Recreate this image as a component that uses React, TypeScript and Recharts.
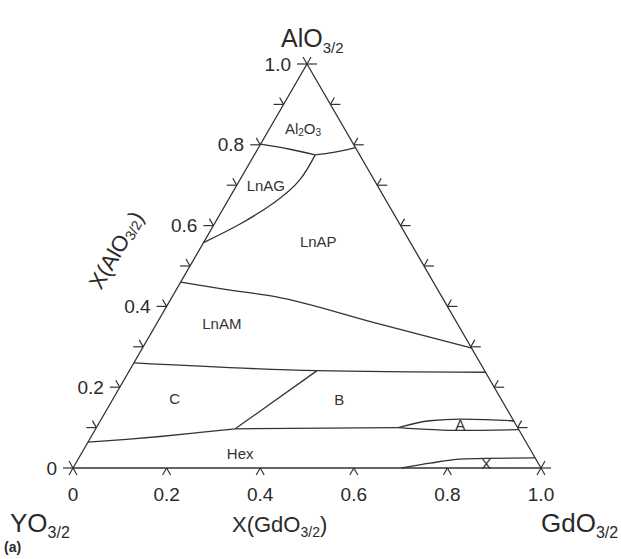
import React from 'react';
import { ComposedChart, Line, Scatter, XAxis, YAxis, ReferenceLine } from 'recharts';

// ternary points are [X(GdO3/2), X(AlO3/2)]
const outline = [[0, 0], [0, 1], [1, 0], [0, 0]];
const al2o3LnAG = [[0, 0.8015], [0.069, 0.789], [0.13, 0.775]];
const al2o3LnAP = [[0.13, 0.775], [0.166, 0.781], [0.207, 0.793]];
const lnAGLnAP = [[0, 0.558], [0.055, 0.604], [0.102, 0.658], [0.128, 0.713], [0.13, 0.775]];
const lnAPLnAM = [[0, 0.46], [0.104, 0.442], [0.22, 0.424], [0.466, 0.359], [0.703, 0.297]];
const lnAMCB = [[0, 0.26], [0.401, 0.241], [0.763, 0.237]];
const hexC = [[0, 0.064], [0.079, 0.071], [0.147, 0.078], [0.228, 0.088], [0.298, 0.097]];
const cB = [[0.298, 0.097], [0.401, 0.241]];
const bHex = [[0.298, 0.097], [0.645, 0.1]];
const aUpper = [[0.645, 0.1], [0.704, 0.117], [0.767, 0.121], [0.879, 0.117], [0.885, 0.115]];
const aLower = [[0.645, 0.1], [0.781, 0.093], [0.905, 0.095]];
const xUpper = [[0.702, 0], [0.757, 0.012], [0.816, 0.022], [0.879, 0.024], [0.975, 0.025]];

const sideTicks = [0, 0.1, 0.2, 0.3, 0.4, 0.5, 0.6, 0.7, 0.8, 0.9, 1.0];
const baseTicks = [0, 0.2, 0.4, 0.6, 0.8, 1.0];
const tickLabels = ['0', '0.2', '0.4', '0.6', '0.8', '1.0'];

const regionNames = ['Al2O3', 'LnAG', 'LnAP', 'LnAM', 'C', 'B', 'A', 'Hex', 'X'];
const regionGd = [0.071, 0.062, 0.244, 0.139, 0.131, 0.484, 0.774, 0.339, 0.877];
const regionAl = [0.841, 0.7, 0.56, 0.358, 0.173, 0.17, 0.1066, 0.0365, 0.0117];

const W = 621;
const H = 559;
const PW = 468; // plot width in px
const PH = 404; // plot height in px
const FONT = '"Liberation Sans", Arial, sans-serif';
const INK = '#2a2a2a';

const tern = (g: number, a: number) => ({ x: g + a / 2, y: a });
const toXY = (pts: number[][]) => pts.map(([g, a]) => tern(g, a));

const boundaries = [
  { id: 'outline', pts: outline, type: 'linear' },
  { id: 'al2o3LnAG', pts: al2o3LnAG, type: 'monotoneX' },
  { id: 'al2o3LnAP', pts: al2o3LnAP, type: 'monotoneX' },
  { id: 'lnAGLnAP', pts: lnAGLnAP, type: 'natural' },
  { id: 'lnAPLnAM', pts: lnAPLnAM, type: 'monotoneX' },
  { id: 'lnAMCB', pts: lnAMCB, type: 'monotoneX' },
  { id: 'hexC', pts: hexC, type: 'monotoneX' },
  { id: 'cB', pts: cB, type: 'linear' },
  { id: 'bHex', pts: bHex, type: 'linear' },
  { id: 'aUpper', pts: aUpper, type: 'monotoneX' },
  { id: 'aLower', pts: aLower, type: 'monotoneX' },
  { id: 'xUpper', pts: xUpper, type: 'monotoneX' },
];

// tick stroke lengths in data units
const hLen = 10 / PW;
const dDx = (8 * 0.5) / PW;
const dDy = (8 * 0.866) / PH;

const tickSegments: { x: number; y: number }[][] = [];
sideTicks.forEach((a) => {
  const l = tern(0, a);
  tickSegments.push([l, { x: l.x - hLen, y: a }]);
  tickSegments.push([l, { x: l.x - dDx, y: a + dDy }]);
  const r = tern(1 - a, a);
  tickSegments.push([r, { x: r.x + hLen, y: a }]);
  tickSegments.push([r, { x: r.x + dDx, y: a + dDy }]);
});
baseTicks.forEach((g) => {
  const b = tern(g, 0);
  tickSegments.push([b, { x: b.x - dDx, y: -dDy }]);
  tickSegments.push([b, { x: b.x + dDx, y: -dDy }]);
});

const leftLabelData = baseTicks.map((a, i) => ({ ...tern(0, a), label: tickLabels[i] }));
const bottomLabelData = baseTicks.map((g, i) => ({ ...tern(g, 0), label: tickLabels[i] }));
const regionData = regionNames.map((n, i) => ({ ...tern(regionGd[i], regionAl[i]), label: n }));
const vertexData = [
  { ...tern(0, 1), label: 'top' },
  { ...tern(0, 0), label: 'left' },
  { ...tern(1, 0), label: 'right' },
  { ...tern(0.5, 0), label: 'bottom' },
  { ...tern(0, 0.5), label: 'side' },
];

const LeftLabel = (p: any) => (
  <text x={p.cx - 16} y={p.cy} textAnchor="end" dominantBaseline="central" fontSize={19} fill={INK} fontFamily={FONT}>
    {p.payload.label}
  </text>
);

const BottomLabel = (p: any) => (
  <text x={p.cx} y={p.cy + 26} textAnchor="middle" dominantBaseline="central" fontSize={19} fill={INK} fontFamily={FONT}>
    {p.payload.label}
  </text>
);

const RegionLabel = (p: any) => {
  const name = p.payload.label;
  if (name === 'Al2O3') {
    return (
      <text x={p.cx} y={p.cy} textAnchor="middle" dominantBaseline="central" fontSize={15} fill="#333" fontFamily={FONT}>
        Al<tspan fontSize={10} dy={4}>2</tspan>
        <tspan dy={-4}>O</tspan>
        <tspan fontSize={10} dy={4}>3</tspan>
      </text>
    );
  }
  return (
    <text x={p.cx} y={p.cy} textAnchor="middle" dominantBaseline="central" fontSize={15} fill="#333" fontFamily={FONT}>
      {name}
    </text>
  );
};

const VertexLabel = (p: any) => {
  const { cx, cy } = p;
  switch (p.payload.label) {
    case 'top':
      return (
        <text x={cx - 26} y={cy - 17} fontSize={25} fill={INK} fontFamily={FONT}>
          AlO<tspan fontSize={15} dy={6}>3/2</tspan>
        </text>
      );
    case 'left':
      return (
        <g>
          <text x={cx - 63} y={cy + 64} fontSize={26} fill={INK} fontFamily={FONT}>
            YO<tspan fontSize={16} dy={6}>3/2</tspan>
          </text>
          <text x={cx - 69} y={cy + 84} fontSize={14} fontWeight="bold" fill={INK} fontFamily={FONT}>
            (a)
          </text>
        </g>
      );
    case 'right':
      return (
        <text x={cx} y={cy + 64} fontSize={26} fill={INK} fontFamily={FONT}>
          GdO<tspan fontSize={16} dy={6}>3/2</tspan>
        </text>
      );
    case 'bottom':
      return (
        <text x={cx - 75} y={cy + 64} fontSize={22} fill={INK} fontFamily={FONT}>
          X(GdO<tspan fontSize={14} dy={5}>3/2</tspan>
          <tspan dy={-5}>)</tspan>
        </text>
      );
    default: {
      const x = cx - 74;
      const y = cy - 16;
      return (
        <text
          x={x}
          y={y}
          textAnchor="middle"
          dominantBaseline="central"
          fontSize={22}
          fill={INK}
          fontFamily={FONT}
          transform={`rotate(-60, ${x}, ${y})`}
        >
          X(AlO<tspan fontSize={14} dy={5}>3/2</tspan>
          <tspan dy={-5}>)</tspan>
        </text>
      );
    }
  }
};

export default function App() {
  return (
    <div style={{ position: 'absolute', left: 0, top: 0, width: W, height: H, background: '#fff' }}>
      <ComposedChart width={W} height={H} margin={{ top: 64, right: W - 73 - PW, bottom: H - 64 - PH, left: 73 }}>
        <XAxis type="number" dataKey="x" domain={[0, 1]} hide />
        <YAxis type="number" dataKey="y" domain={[0, 1]} hide />
        {boundaries.map((b) => (
          <Line
            key={b.id}
            data={toXY(b.pts)}
            dataKey="y"
            type={b.type as any}
            stroke="#333"
            strokeWidth={1.3}
            dot={false}
            activeDot={false}
            isAnimationActive={false}
          />
        ))}
        {tickSegments.map((s, i) => (
          <ReferenceLine key={'t' + i} segment={s} ifOverflow="visible" stroke="#333" strokeWidth={1.2} />
        ))}
        <Scatter data={leftLabelData} dataKey="y" shape={LeftLabel} isAnimationActive={false} />
        <Scatter data={bottomLabelData} dataKey="y" shape={BottomLabel} isAnimationActive={false} />
        <Scatter data={regionData} dataKey="y" shape={RegionLabel} isAnimationActive={false} />
        <Scatter data={vertexData} dataKey="y" shape={VertexLabel} isAnimationActive={false} />
      </ComposedChart>
    </div>
  );
}
